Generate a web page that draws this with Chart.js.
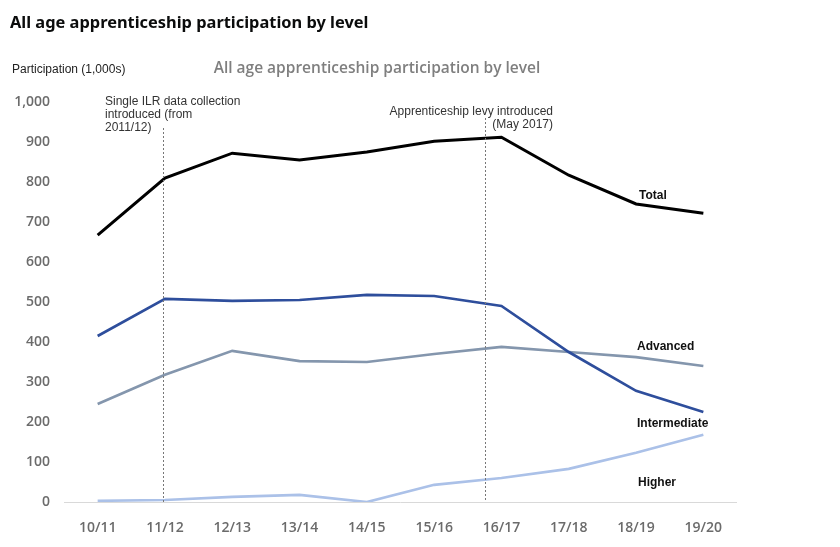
<!DOCTYPE html>
<html>
<head>
<meta charset="utf-8">
<script src="https://cdn.jsdelivr.net/npm/chart.js@4.4.1/dist/chart.umd.min.js"></script>
<style>
  body { margin: 0; background: #fff; }
  canvas { display: block; }
</style>
</head>
<body>
<canvas id="chart" width="840" height="547"></canvas>
<script>
const years = ["10/11", "11/12", "12/13", "13/14", "14/15", "15/16", "16/17", "17/18", "18/19", "19/20"];
const total = [667, 810, 872, 855, 875, 902, 912, 817, 745, 722];
const advanced = [245, 318, 378, 352, 350, 370, 388, 375, 362, 340];
const intermediate = [415, 508, 503, 505, 518, 515, 490, 375, 278, 225];
const higher = [3, 5, 13, 18, 0, 43, 60, 83, 123, 168];
const yTicks = [0, 100, 200, 300, 400, 500, 600, 700, 800, 900, 1000];

// vertical marker lines, position as category index
const markers = [
    { at: 0.97, top: 128, lines: ["Single ILR data collection", "introduced (from", "2011/12)"], align: "left", x: 105, y: 102 },
    { at: 5.75, top: 118, lines: ["Apprenticeship levy introduced", "(May 2017)"], align: "right", x: 553, y: 112 },
];

const seriesLabels = [
    { text: "Total", x: 639, y: 196 },
    { text: "Advanced", x: 637, y: 347 },
    { text: "Intermediate", x: 637, y: 424 },
    { text: "Higher", x: 638, y: 483 },
];

const extras = {
    id: "extras",
    afterDraw(chart) {
        const ctx = chart.ctx;
        const x = chart.scales.x;
        const y = chart.scales.y;
        ctx.save();

        ctx.fillStyle = "#0b0c0c";
        ctx.font = "bold 16.4px 'Noto Sans'";
        ctx.textBaseline = "middle";
        ctx.textAlign = "left";
        ctx.fillText("All age apprenticeship participation by level", 10, 23);

        ctx.fillStyle = "#7f7f7f";
        ctx.font = "600 15.5px 'Open Sans'";
        ctx.textAlign = "center";
        ctx.fillText("All age apprenticeship participation by level", 377, 69);

        ctx.fillStyle = "#222";
        ctx.font = "12px 'Liberation Sans'";
        ctx.textAlign = "left";
        ctx.fillText("Participation (1,000s)", 12, 70);

        markers.forEach((m) => {
            const px = Math.round(x.getPixelForValue(m.at)) + 0.5;
            ctx.strokeStyle = "#777";
            ctx.lineWidth = 1;
            ctx.setLineDash([2, 2]);
            ctx.beginPath();
            ctx.moveTo(px, m.top);
            ctx.lineTo(px, y.getPixelForValue(0));
            ctx.stroke();
            ctx.setLineDash([]);

            ctx.fillStyle = "#333";
            ctx.font = "12px 'Liberation Sans'";
            ctx.textAlign = m.align;
            m.lines.forEach((t, i) => ctx.fillText(t, m.x, m.y + i * 13));
        });

        ctx.fillStyle = "#111";
        ctx.font = "bold 12px 'Liberation Sans'";
        ctx.textAlign = "left";
        seriesLabels.forEach((l) => ctx.fillText(l.text, l.x, l.y));

        ctx.restore();
    },
};

new Chart(document.getElementById("chart"), {
    type: "line",
    data: {
        labels: years,
        datasets: [
            { label: "Total", data: total, borderColor: "#000000", borderWidth: 3 },
            { label: "Intermediate", data: intermediate, borderColor: "#2e4e9c", borderWidth: 2.7 },
            { label: "Advanced", data: advanced, borderColor: "#8496ad", borderWidth: 2.7 },
            { label: "Higher", data: higher, borderColor: "#abc1e8", borderWidth: 2.7 },
        ],
    },
    options: {
        responsive: false,
        animation: false,
        devicePixelRatio: 1,
        layout: { padding: { top: 102, right: 103, bottom: 0, left: 0 } },
        elements: { point: { radius: 0 }, line: { tension: 0, borderCapStyle: "butt" } },
        plugins: {
            legend: { display: false },
            tooltip: { enabled: false },
        },
        scales: {
            x: {
                offset: true,
                grid: { display: false },
                border: { display: false },
                ticks: { color: "#6b6b6b", padding: 10, font: { family: "Open Sans", weight: "600", size: 14 } },
                afterFit(scale) { scale.height = 45; },
            },
            y: {
                min: 0,
                max: 1000,
                afterBuildTicks(scale) { scale.ticks = yTicks.map((v) => ({ value: v })); },
                grid: {
                    drawTicks: false,
                    color: (c) => (c.tick && c.tick.value === 0 ? "#d9d9d9" : "rgba(0,0,0,0)"),
                },
                border: { display: false },
                ticks: {
                    color: "#6b6b6b",
                    padding: 14,
                    font: { family: "Open Sans", weight: "600", size: 14 },
                    callback: (v) => v.toLocaleString("en-GB"),
                },
                afterFit(scale) { scale.width = 64; },
            },
        },
    },
    plugins: [extras],
});
</script>
</body>
</html>
